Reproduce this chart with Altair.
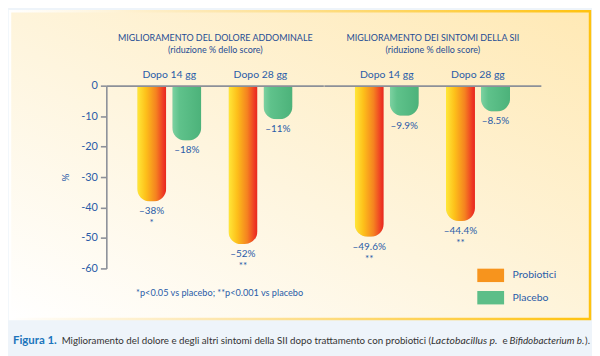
import altair as alt
import pandas as pd

# ---------------- data ----------------
groups = ["dolore", "sii"]
group_titles = ["MIGLIORAMENTO DEL DOLORE ADDOMINALE", "MIGLIORAMENTO DEI SINTOMI DELLA SII"]
group_subtitle = "(riduzione % dello score)"
times = ["Dopo 14 gg", "Dopo 28 gg"]
series = ["Probiotici", "Placebo"]
probiotici_dolore = [-38, -52]
placebo_dolore = [-18, -11]
probiotici_sii = [-49.6, -44.4]
placebo_sii = [-9.9, -8.5]
stars_dolore = ["*", "**"]
stars_sii = ["**", "**"]
y_ticks = [0, -10, -20, -30, -40, -50, -60]
footnote = "*p<0.05 vs placebo;  **p<0.001 vs placebo"
caption_bold = "Figura 1."
caption_text = "Miglioramento del dolore e degli altri sintomi della SII dopo trattamento con probiotici ("
caption_it1 = "Lactobacillus p."
caption_mid = "e"
caption_it2 = "Bifidobacterium b."
caption_end = ")."

rows = []
for g, prob, plac, stars in [(groups[0], probiotici_dolore, placebo_dolore, stars_dolore),
                             (groups[1], probiotici_sii, placebo_sii, stars_sii)]:
    for t, pv, cv, s in zip(times, prob, plac, stars):
        rows.append({"group": g, "time": t, "series": "Probiotici", "value": pv,
                     "label": f"–{abs(pv):g}%\n{s}"})
        rows.append({"group": g, "time": t, "series": "Placebo", "value": cv,
                     "label": f"–{abs(cv):g}%"})
df = pd.DataFrame(rows)

# ---------------- style ----------------
FONT = "Lato"
BLUE = "#2A5CA8"
TITLE_BLUE = "#1F4D94"
AXIS_GRAY = "#8C9099"
W, H = 218.5, 184

prob_grad = {"gradient": "linear", "x1": 0, "x2": 1, "y1": 0, "y2": 0,
             "stops": [{"offset": 0, "color": "#FFE83A"},
                       {"offset": 0.3, "color": "#FDC01A"},
                       {"offset": 0.65, "color": "#F58220"},
                       {"offset": 0.9, "color": "#EE3A24"},
                       {"offset": 1, "color": "#E8261C"}]}
plac_grad = {"gradient": "linear", "x1": 0, "x2": 1, "y1": 0, "y2": 0,
             "stops": [{"offset": 0, "color": "#7ED2A2"},
                       {"offset": 0.25, "color": "#5FC28B"},
                       {"offset": 1, "color": "#4CB27A"}]}
bg_grad = {"gradient": "linear", "x1": 0, "x2": 1, "y1": 1, "y2": 0,
           "stops": [{"offset": 0, "color": "#FFFFFF"},
                     {"offset": 0.45, "color": "#FEF5DE"},
                     {"offset": 1, "color": "#FFE9B5"}]}
border_grad = {"gradient": "linear", "x1": 0, "x2": 1, "y1": 0, "y2": 0,
               "stops": [{"offset": 0, "color": "#FFFFFF"},
                         {"offset": 0.35, "color": "#FDE7B0"},
                         {"offset": 1, "color": "#FFC20E"}]}


def panel(gi, first):
    d = df[df.group == groups[gi]]
    x = alt.X("time:N", sort=times,
              scale=alt.Scale(domain=times, paddingInner=0.297, paddingOuter=0.338),
              axis=alt.Axis(orient="top", title=[group_titles[gi], group_subtitle],
                            titleFont=FONT, titleFontSize=9, titleFontWeight="normal",
                            titleColor=TITLE_BLUE, titleLineHeight=12, titlePadding=15,
                            labelAngle=0, labelFont=FONT, labelFontSize=10.5, labelColor=BLUE,
                            labelPadding=6, ticks=False, domainColor=AXIS_GRAY,
                            domainWidth=1.6, zindex=1))
    xo = alt.XOffset("series:N", sort=series,
                     scale=alt.Scale(domain=series, paddingInner=0.17, paddingOuter=0))
    if first:
        yaxis = alt.Axis(values=y_ticks, title="%", titleFont=FONT, titleFontSize=10,
                         titleFontWeight="normal", titleColor=BLUE, titlePadding=10,
                         labelFont=FONT, labelFontSize=11, labelColor=BLUE, labelPadding=3,
                         tickSize=6, tickColor=AXIS_GRAY, tickWidth=1.6,
                         domainColor=AXIS_GRAY, domainWidth=1.6, grid=False,
                         labelExpr="datum.value == 0 ? '0' : '-' + abs(datum.value)",
                         zindex=1)
    else:
        yaxis = None
    y = alt.Y("value:Q", scale=alt.Scale(domain=[-60, 0], nice=False, zero=False), axis=yaxis)
    base = alt.Chart(d).encode(x=x, xOffset=xo, y=y)

    shadow = base.mark_bar(color="#7A6A4A", opacity=0.16, xOffset=4, yOffset=2,
                           cornerRadiusBottomLeft=13, cornerRadiusBottomRight=13)
    bars_p = base.transform_filter(alt.datum.series == "Probiotici").mark_bar(
        fill=prob_grad, cornerRadiusBottomLeft=13, cornerRadiusBottomRight=13)
    bars_c = base.transform_filter(alt.datum.series == "Placebo").mark_bar(
        fill=plac_grad, cornerRadiusBottomLeft=13, cornerRadiusBottomRight=13)
    labels = base.mark_text(font=FONT, fontSize=10, color=BLUE, baseline="top", dy=5,
                            lineBreak="\n", lineHeight=12).encode(text="label:N")
    layers = [shadow, bars_p, bars_c, labels]

    if first:
        one = pd.DataFrame({"k": [0]})
        bg = alt.Chart(one).mark_rect(fill=bg_grad, stroke=border_grad, strokeWidth=2.5).encode(
            x=alt.value(-97), x2=alt.value(487), y=alt.value(-75), y2=alt.value(235))
        def txt(s, xv, yv, **kw):
            return alt.Chart(pd.DataFrame({"t": [s]})).mark_text(
                font=FONT, align="left", baseline="middle", **kw).encode(
                x=alt.value(xv), y=alt.value(yv), text="t:N")
        foot = txt(footnote, 30, 209, fontSize=9.2, color=BLUE)
        cap = [txt(caption_bold, -94, 257, fontSize=11.5, fontWeight="bold", color="#1B75BC"),
               txt(caption_text, -45, 257, fontSize=9.8, color="#333333"),
               txt(caption_it1, 327, 257, fontSize=10.5, fontStyle="italic", color="#333333"),
               txt(caption_mid, 399, 257, fontSize=9.8, color="#333333"),
               txt(caption_it2, 406, 257, fontSize=9.9, fontStyle="italic", color="#333333"),
               txt(caption_end, 482, 257, fontSize=9.8, color="#333333")]
        layers = [bg] + layers + [foot] + cap
    else:
        leg = base.mark_bar(opacity=0).encode(
            color=alt.Color("series:N", sort=series,
                            scale=alt.Scale(domain=series, range=["#F7941D", "#5DBE88"]),
                            legend=alt.Legend(title=None, orient="none", legendX=380, legendY=184,
                                              symbolType="M-2,-1H2V1H-2Z", symbolSize=182,
                                              symbolOpacity=1, symbolStrokeWidth=0,
                                              labelFont=FONT, labelFontSize=10.5,
                                              labelColor=BLUE, rowPadding=8.5, labelOffset=15)))
        layers = layers + [leg]
    return alt.layer(*layers).properties(width=W, height=H)


chart = alt.hconcat(panel(0, True), panel(1, False), spacing=0, bounds="flush").properties(
    padding={"left": 0, "top": 0, "right": 0, "bottom": 10},
    background="#EEF4FA",
).configure_view(stroke=None).configure_axis(grid=False)

chart.save("out.html", embed_options={"renderer": "svg", "actions": False})
